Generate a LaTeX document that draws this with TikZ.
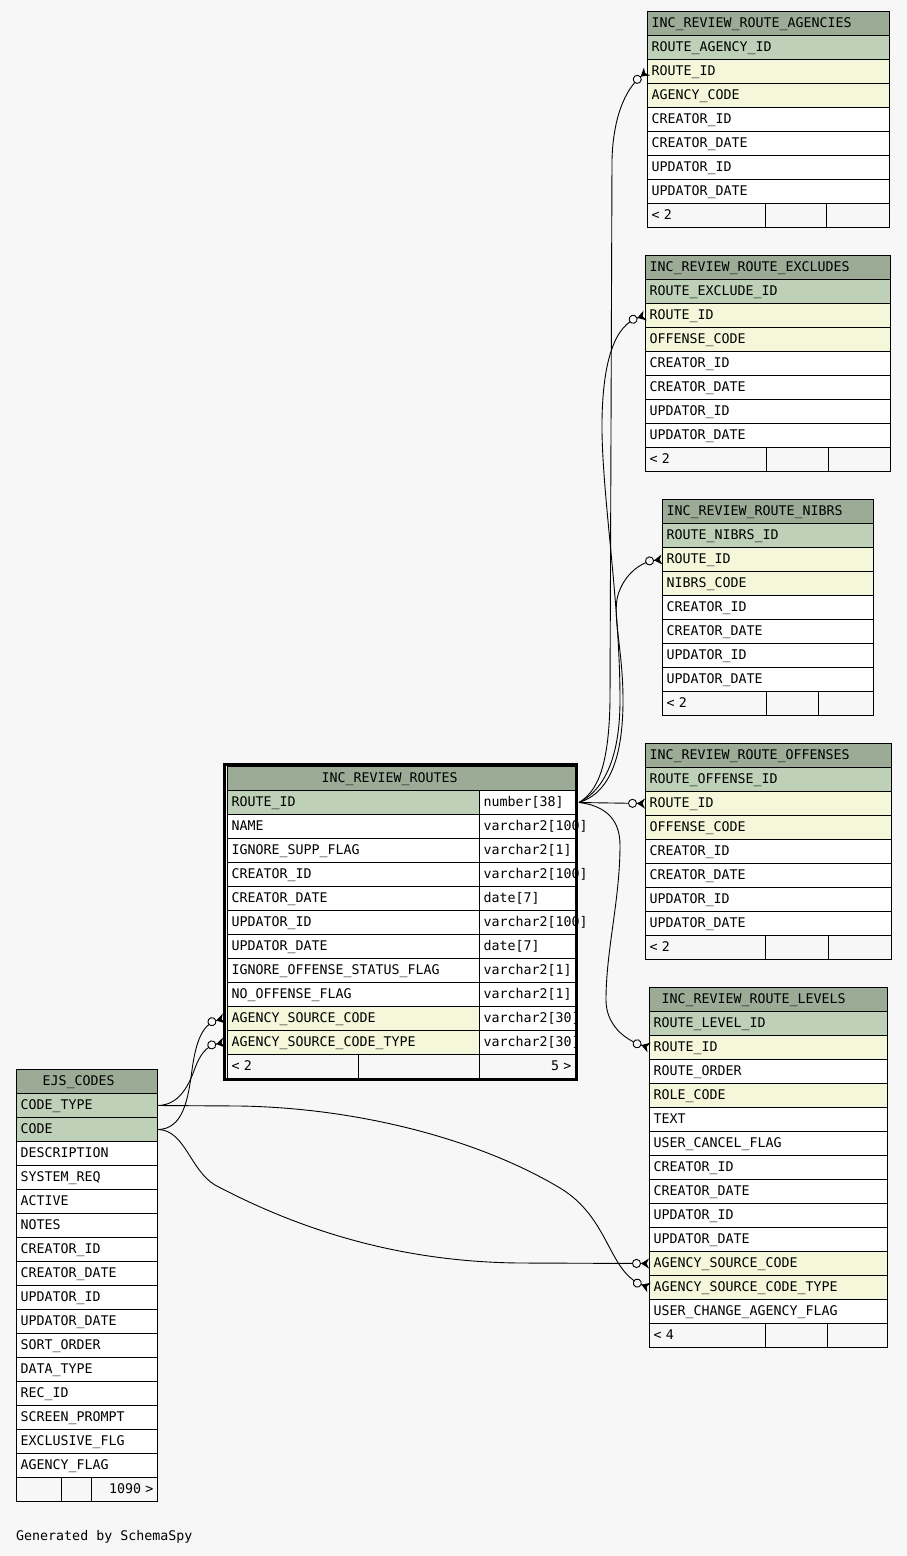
\documentclass[tikz,border=0pt]{standalone}
\usepackage{fontspec}
\usetikzlibrary{arrows.meta}
\newfontfamily\erdfont{DejaVu Sans Mono}
\definecolor{bgc}{HTML}{F7F7F7}
\definecolor{hdc}{HTML}{9BAB96}
\definecolor{pkc}{HTML}{BED1B8}
\definecolor{fkc}{HTML}{F4F7DA}
\colorlet{wtc}{white}
\tikzset{
  cell/.style={draw, line width=1pt, anchor=north west, minimum height=24pt,
    inner xsep=4pt, inner ysep=0pt, text width=#1pt, align=left,
    text height=9.5pt, text depth=2.5pt, font=\erdfont\fontsize{13.3}{15}\selectfont},
  hcell/.style={cell=#1, fill=hdc},
  fcell/.style={cell=#1, fill=bgc},
  rel/.style={line width=0.9pt,
    -{Circle[open,fill=bgc,length=9pt,width=9pt] Stealth[reversed,length=8pt,width=10pt,inset=2.5pt]}},
}
\begin{document}
\begin{tikzpicture}[x=1pt,y=-1pt]
\useasboundingbox (0,0) rectangle (907,1556);
\fill[bgc] (0,0) rectangle (907,1556);

\node[hcell=234] (agn-0) at (647,11) {INC\_REVIEW\_ROUTE\_AGENCIES};
\foreach \t/\c [count=\i] in {ROUTE\_AGENCY\_ID/pkc, ROUTE\_ID/fkc, AGENCY\_CODE/fkc,
  CREATOR\_ID/wtc, CREATOR\_DATE/wtc, UPDATOR\_ID/wtc, UPDATOR\_DATE/wtc}
  \node[cell=234, fill=\c] (agn-\i) at (647,{11+24*\i}) {\t};
\node[fcell=110] (agn-f1) at (647,203) {< 2};
\node[fcell=53] (agn-f2) at (765,203) {};
\node[fcell=55] (agn-f3) at (826,203) {};

\node[hcell=237] (exc-0) at (645,255) {INC\_REVIEW\_ROUTE\_EXCLUDES};
\foreach \t/\c [count=\i] in {ROUTE\_EXCLUDE\_ID/pkc, ROUTE\_ID/fkc, OFFENSE\_CODE/fkc,
  CREATOR\_ID/wtc, CREATOR\_DATE/wtc, UPDATOR\_ID/wtc, UPDATOR\_DATE/wtc}
  \node[cell=237, fill=\c] (exc-\i) at (645,{255+24*\i}) {\t};
\node[fcell=113] (exc-f1) at (645,447) {< 2};
\node[fcell=54] (exc-f2) at (766,447) {};
\node[fcell=54] (exc-f3) at (828,447) {};

\node[hcell=203] (nib-0) at (662,499) {INC\_REVIEW\_ROUTE\_NIBRS};
\foreach \t/\c [count=\i] in {ROUTE\_NIBRS\_ID/pkc, ROUTE\_ID/fkc, NIBRS\_CODE/fkc,
  CREATOR\_ID/wtc, CREATOR\_DATE/wtc, UPDATOR\_ID/wtc, UPDATOR\_DATE/wtc}
  \node[cell=203, fill=\c] (nib-\i) at (662,{499+24*\i}) {\t};
\node[fcell=96] (nib-f1) at (662,691) {< 2};
\node[fcell=44] (nib-f2) at (766,691) {};
\node[fcell=47] (nib-f3) at (818,691) {};

\node[hcell=238] (off-0) at (645,743) {INC\_REVIEW\_ROUTE\_OFFENSES};
\foreach \t/\c [count=\i] in {ROUTE\_OFFENSE\_ID/pkc, ROUTE\_ID/fkc, OFFENSE\_CODE/fkc,
  CREATOR\_ID/wtc, CREATOR\_DATE/wtc, UPDATOR\_ID/wtc, UPDATOR\_DATE/wtc}
  \node[cell=238, fill=\c] (off-\i) at (645,{743+24*\i}) {\t};
\node[fcell=112] (off-f1) at (645,935) {< 2};
\node[fcell=55] (off-f2) at (765,935) {};
\node[fcell=55] (off-f3) at (828,935) {};

\node[hcell=230] (lev-0) at (649,987) {\hspace*{8pt}INC\_REVIEW\_ROUTE\_LEVELS};
\foreach \t/\c [count=\i] in {ROUTE\_LEVEL\_ID/pkc, ROUTE\_ID/fkc, ROUTE\_ORDER/wtc,
  ROLE\_CODE/fkc, TEXT/wtc, USER\_CANCEL\_FLAG/wtc, CREATOR\_ID/wtc, CREATOR\_DATE/wtc,
  UPDATOR\_ID/wtc, UPDATOR\_DATE/wtc, AGENCY\_SOURCE\_CODE/fkc,
  AGENCY\_SOURCE\_CODE\_TYPE/fkc, USER\_CHANGE\_AGENCY\_FLAG/wtc}
  \node[cell=230, fill=\c] (lev-\i) at (649,{987+24*\i}) {\t};
\node[fcell=108] (lev-f1) at (649,1323) {< 4};
\node[fcell=54] (lev-f2) at (765,1323) {};
\node[fcell=52] (lev-f3) at (827,1323) {};

\node[hcell=340] (rts-0) at (227,766) {\hspace*{90pt}INC\_REVIEW\_ROUTES};
\foreach \t/\c/\d [count=\i] in {ROUTE\_ID/pkc/number[38], NAME/wtc/varchar2[100],
  IGNORE\_SUPP\_FLAG/wtc/varchar2[1], CREATOR\_ID/wtc/varchar2[100],
  CREATOR\_DATE/wtc/date[7], UPDATOR\_ID/wtc/varchar2[100], UPDATOR\_DATE/wtc/date[7],
  IGNORE\_OFFENSE\_STATUS\_FLAG/wtc/varchar2[1], NO\_OFFENSE\_FLAG/wtc/varchar2[1],
  AGENCY\_SOURCE\_CODE/fkc/varchar2[30], AGENCY\_SOURCE\_CODE\_TYPE/fkc/varchar2[30]}
{
  \node[cell=244, fill=\c] (rts-\i) at (227,{766+24*\i}) {\t};
  \node[cell=88, fill=wtc] (rts-t\i) at (479,{766+24*\i}) {\mbox{\d}};
}
\node[fcell=123] (rts-f1) at (227,1054) {< 2};
\node[fcell=113] (rts-f2) at (358,1054) {};
\node[fcell=88, align=right] (rts-f3) at (479,1054) {5 >};
\draw[line width=3pt] (224.5,764.5) rectangle (576.5,1079.5);

\node[hcell=133] (ejs-0) at (16,1069) {\hspace*{22pt}EJS\_CODES};
\foreach \t/\c [count=\i] in {CODE\_TYPE/pkc, CODE/pkc, DESCRIPTION/wtc, SYSTEM\_REQ/wtc,
  ACTIVE/wtc, NOTES/wtc, CREATOR\_ID/wtc, CREATOR\_DATE/wtc, UPDATOR\_ID/wtc,
  UPDATOR\_DATE/wtc, SORT\_ORDER/wtc, DATA\_TYPE/wtc, REC\_ID/wtc, SCREEN\_PROMPT/wtc,
  EXCLUSIVE\_FLG/wtc, AGENCY\_FLAG/wtc}
  \node[cell=133, fill=\c] (ejs-\i) at (16,{1069+24*\i}) {\t};
\node[fcell=37] (ejs-f1) at (16,1477) {};
\node[fcell=22] (ejs-f2) at (61,1477) {};
\node[fcell=58, align=right] (ejs-f3) at (91,1477) {1090 >};

\node[anchor=west, inner sep=0pt, font=\erdfont\fontsize{13.3}{15}\selectfont] (gen) at (16,1537) {Generated by SchemaSpy};

\draw[rel] ([xshift=3pt]rts-t1.east) .. controls (596,792) and (609,770) .. (610,700) -- (612,160) .. controls (613,120) and (624,90) .. (agn-2.west);
\draw[rel] ([xshift=3pt]rts-t1.east) .. controls (600,792) and (620,765) .. (620,700) .. controls (620,600) and (601,490) .. (602,420) .. controls (603,360) and (615,325) .. (exc-2.west);
\draw[rel] ([xshift=3pt]rts-t1.east) .. controls (603,795) and (623,770) .. (623,700) .. controls (623,650) and (612,615) .. (618,595) .. controls (624,575) and (640,562) .. (nib-2.west);
\draw[rel] ([xshift=3pt]rts-t1.east) -- (off-2.west);
\draw[rel] ([xshift=3pt]rts-t1.east) .. controls (600,805) and (620,815) .. (620,845) .. controls (620,900) and (606,950) .. (606,1000) .. controls (606,1025) and (625,1040) .. (lev-2.west);
\draw[rel] (ejs-2.east) .. controls (183,1129) and (188,1100) .. (192,1070) .. controls (196,1040) and (203,1024) .. ([xshift=-3pt]rts-10.west);
\draw[rel] (ejs-1.east) .. controls (178,1105) and (188,1088) .. (195,1068) .. controls (200,1055) and (206,1046) .. ([xshift=-3pt]rts-11.west);
\draw[rel] (ejs-1.east) -- (240,1106) .. controls (360,1108) and (480,1140) .. (560,1188) .. controls (610,1218) and (608,1272) .. (lev-12.west);
\draw[rel] (ejs-2.east) .. controls (185,1130) and (190,1170) .. (215,1185) .. controls (300,1230) and (400,1262) .. (520,1263) -- (lev-11.west);
\end{tikzpicture}
\end{document}
